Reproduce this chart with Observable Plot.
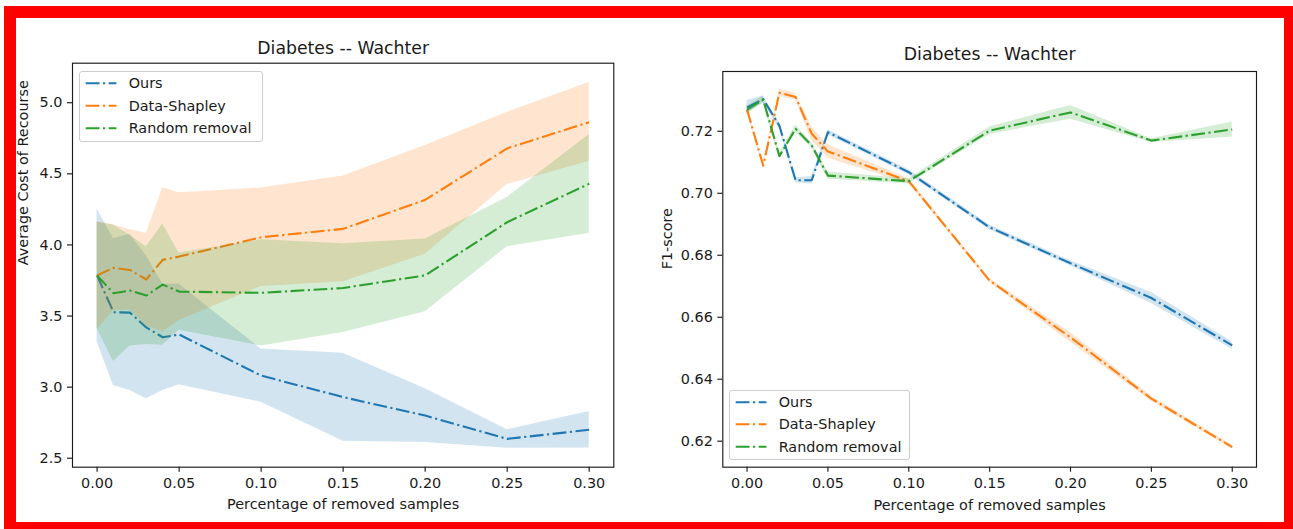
<!DOCTYPE html>
<html><head><meta charset="utf-8">
<script src="https://cdn.jsdelivr.net/npm/d3@7"></script>
<script src="https://cdn.jsdelivr.net/npm/@observablehq/plot@0.6"></script>
<style>
body{margin:0;background:#fff;}
#wrap{position:relative;width:1293px;height:529px;overflow:hidden;background:#fff;font-family:"DejaVu Sans",sans-serif;}
.panel{position:absolute;top:0;}
.border{position:absolute;left:4px;top:6px;width:1289px;height:523px;box-sizing:border-box;border-style:solid;border-color:#ff0000;border-width:12px 9px 7px 12px;pointer-events:none;z-index:5;}
.legend{position:absolute;box-sizing:border-box;border:1px solid #cccccc;border-radius:3px;background:rgba(255,255,255,0.8);z-index:3;}
</style></head><body><div id="wrap"></div>
<script>
// ---- data ----
const removed = [0, 0.01, 0.02, 0.03, 0.04, 0.05, 0.10, 0.15, 0.20, 0.25, 0.30];
const seriesNames = ["Ours", "Data-Shapley", "Random removal"];
const seriesColors = ["#1f77b4", "#ff7f0e", "#2ca02c"];
const xTicks = [0, 0.05, 0.10, 0.15, 0.20, 0.25, 0.30];

// Left: Average Cost of Recourse (mean, lower, upper)
const oursCost   = [3.785, 3.527, 3.524, 3.420, 3.351, 3.370, 3.081, 2.930, 2.800, 2.636, 2.700];
const oursCostLo = [3.317, 3.011, 2.976, 2.918, 2.976, 3.016, 2.894, 2.620, 2.610, 2.570, 2.572];
const oursCostHi = [4.253, 4.043, 4.075, 3.924, 3.726, 3.724, 3.268, 3.238, 2.988, 2.700, 2.828];
const shapCost   = [3.785, 3.839, 3.824, 3.757, 3.895, 3.918, 4.054, 4.113, 4.317, 4.679, 4.863];
const shapCostLo = [3.405, 3.537, 3.542, 3.432, 3.388, 3.469, 3.708, 3.741, 3.935, 4.425, 4.588];
const shapCostHi = [4.165, 4.141, 4.106, 4.082, 4.402, 4.367, 4.400, 4.485, 4.699, 4.933, 5.142];
const randCost   = [3.785, 3.660, 3.679, 3.644, 3.721, 3.672, 3.663, 3.697, 3.786, 4.160, 4.430];
const randCostLo = [3.410, 3.180, 3.290, 3.300, 3.294, 3.400, 3.290, 3.385, 3.530, 3.987, 4.083];
const randCostHi = [4.160, 4.140, 4.068, 3.988, 4.148, 3.944, 4.036, 4.009, 4.042, 4.333, 4.777];
const costTicks = [2.5, 3.0, 3.5, 4.0, 4.5, 5.0];

// Right: F1-score (mean, lower, upper)
const oursF1   = [0.7277, 0.7304, 0.7218, 0.7042, 0.7042, 0.7197, 0.7068, 0.6890, 0.6774, 0.6662, 0.6509];
const oursF1Lo = [0.7255, 0.7294, 0.7208, 0.7034, 0.7030, 0.7189, 0.7060, 0.6882, 0.6766, 0.6644, 0.6497];
const oursF1Hi = [0.7299, 0.7314, 0.7228, 0.7050, 0.7054, 0.7205, 0.7076, 0.6898, 0.6782, 0.6680, 0.6521];
const shapF1   = [0.7270, 0.7089, 0.7324, 0.7311, 0.7192, 0.7135, 0.7039, 0.6718, 0.6535, 0.6337, 0.6181];
const shapF1Lo = [0.7264, 0.7081, 0.7312, 0.7301, 0.7170, 0.7113, 0.7031, 0.6712, 0.6519, 0.6329, 0.6175];
const shapF1Hi = [0.7276, 0.7097, 0.7336, 0.7321, 0.7214, 0.7157, 0.7047, 0.6724, 0.6551, 0.6345, 0.6187];
const randF1   = [0.7270, 0.7302, 0.7120, 0.7208, 0.7154, 0.7057, 0.7039, 0.7202, 0.7261, 0.7170, 0.7206];
const randF1Lo = [0.7258, 0.7290, 0.7112, 0.7196, 0.7146, 0.7045, 0.7031, 0.7190, 0.7239, 0.7164, 0.7182];
const randF1Hi = [0.7282, 0.7314, 0.7128, 0.7220, 0.7162, 0.7069, 0.7047, 0.7214, 0.7283, 0.7176, 0.7230];
const f1Ticks = [0.62, 0.64, 0.66, 0.68, 0.70, 0.72];

const chartTitle = "Diabetes -- Wachter";
const xLabel = "Percentage of removed samples";

// ---- build ----
function rows(mean, lo, hi) {
  return removed.map((x, i) => ({x, mean: mean[i], lo: lo[i], hi: hi[i]}));
}
const costSeries = [rows(oursCost, oursCostLo, oursCostHi), rows(shapCost, shapCostLo, shapCostHi), rows(randCost, randCostLo, randCostHi)];
const f1Series = [rows(oursF1, oursF1Lo, oursF1Hi), rows(shapF1, shapF1Lo, shapF1Hi), rows(randF1, randF1Lo, randF1Hi)];

const DASH = "13.8,3.5,2.2,3.5";
const INK = "#1a1a1a";

function panel(o) {
  const marks = [];
  o.series.forEach((data, i) => {
    marks.push(Plot.lineY(data, {x: "x", y: "mean", stroke: seriesColors[i], strokeWidth: 2.1, strokeDasharray: DASH, strokeLinecap: "butt", strokeLinejoin: "round"}));
    marks.push(Plot.areaY(data, {x: "x", y1: "lo", y2: "hi", fill: seriesColors[i], fillOpacity: 0.2}));
  });
  marks.push(Plot.axisX({ticks: xTicks, tickFormat: d3.format(".2f"), tickSize: 5, tickPadding: 6, label: null, fontSize: 14.4, strokeWidth: 1.15, stroke: INK, fill: INK}));
  marks.push(Plot.axisY({ticks: o.yTicks, tickFormat: d3.format(o.yFmt), tickSize: 5, tickPadding: 5, label: null, fontSize: 14.4, strokeWidth: 1.15, stroke: INK, fill: INK}));
  marks.push(Plot.frame({stroke: INK, strokeWidth: 1.15}));
  marks.push(Plot.text([chartTitle], {text: d => d, frameAnchor: "top", lineAnchor: "middle", dy: o.titleDy, fontSize: 17.3, fill: INK}));
  marks.push(Plot.text([xLabel], {text: d => d, frameAnchor: "bottom", lineAnchor: "middle", dy: o.xlabDy, fontSize: 14.4, fill: INK}));
  marks.push(Plot.text([o.ylabel], {text: d => d, frameAnchor: "left", lineAnchor: "middle", rotate: -90, dx: o.ylabDx, fontSize: 14.4, fill: INK}));
  const svg = Plot.plot({
    width: o.width, height: 529,
    marginLeft: o.ml, marginRight: o.mr, marginTop: o.mt, marginBottom: o.mb,
    x: {domain: [-0.015, 0.315]},
    y: {domain: o.yDomain},
    style: {fontFamily: "DejaVu Sans", fontSize: "14.4px", background: "transparent", color: INK},
    marks
  });
  svg.classList.add("panel");
  svg.style.left = o.left + "px";
  return svg;
}

function legend(left, top, width, height, rowYs) {
  const div = document.createElement("div");
  div.className = "legend";
  Object.assign(div.style, {left: left + "px", top: top + "px", width: width + "px", height: height + "px"});
  const ns = "http://www.w3.org/2000/svg";
  const s = document.createElementNS(ns, "svg");
  s.setAttribute("width", width); s.setAttribute("height", height);
  s.style.position = "absolute"; s.style.left = "-1px"; s.style.top = "-1px"; s.style.overflow = "visible";
  seriesNames.forEach((name, i) => {
    const l = document.createElementNS(ns, "line");
    l.setAttribute("x1", 6.7); l.setAttribute("x2", 37.4);
    l.setAttribute("y1", rowYs[i]); l.setAttribute("y2", rowYs[i]);
    l.setAttribute("stroke", seriesColors[i]); l.setAttribute("stroke-width", 2.1);
    l.setAttribute("stroke-dasharray", DASH);
    s.appendChild(l);
    const t = document.createElementNS(ns, "text");
    t.setAttribute("x", 49.7); t.setAttribute("y", rowYs[i]); t.setAttribute("dy", "0.36em");
    t.setAttribute("font-family", "DejaVu Sans"); t.setAttribute("font-size", "14.4px"); t.setAttribute("fill", INK);
    t.textContent = name;
    s.appendChild(t);
  });
  div.appendChild(s);
  return div;
}

const wrap = document.getElementById("wrap");
wrap.appendChild(panel({
  series: costSeries, yDomain: [2.437, 5.278], yTicks: costTicks, yFmt: ".1f",
  ylabel: "Average Cost of Recourse",
  left: 0, width: 646, ml: 72, mr: 32.7, mt: 62.7, mb: 62.3,
  titleDy: -14.6, xlabDy: 36.7, ylabDx: -48.7
}));
wrap.appendChild(panel({
  series: f1Series, yDomain: [0.6116, 0.7393], yTicks: f1Ticks, yFmt: ".2f",
  ylabel: "F1-score",
  left: 646, width: 647, ml: 76.3, mr: 37, mt: 71, mb: 62.3,
  titleDy: -16.6, xlabDy: 37.7, ylabDx: -55.6
}));
wrap.appendChild(legend(79.3, 71, 184, 71.3, [12.3, 34.7, 57.3]));
wrap.appendChild(legend(729.3, 390, 180.7, 70, [12.3, 34.3, 56.7]));
const b = document.createElement("div"); b.className = "border"; wrap.appendChild(b);
</script></body></html>
